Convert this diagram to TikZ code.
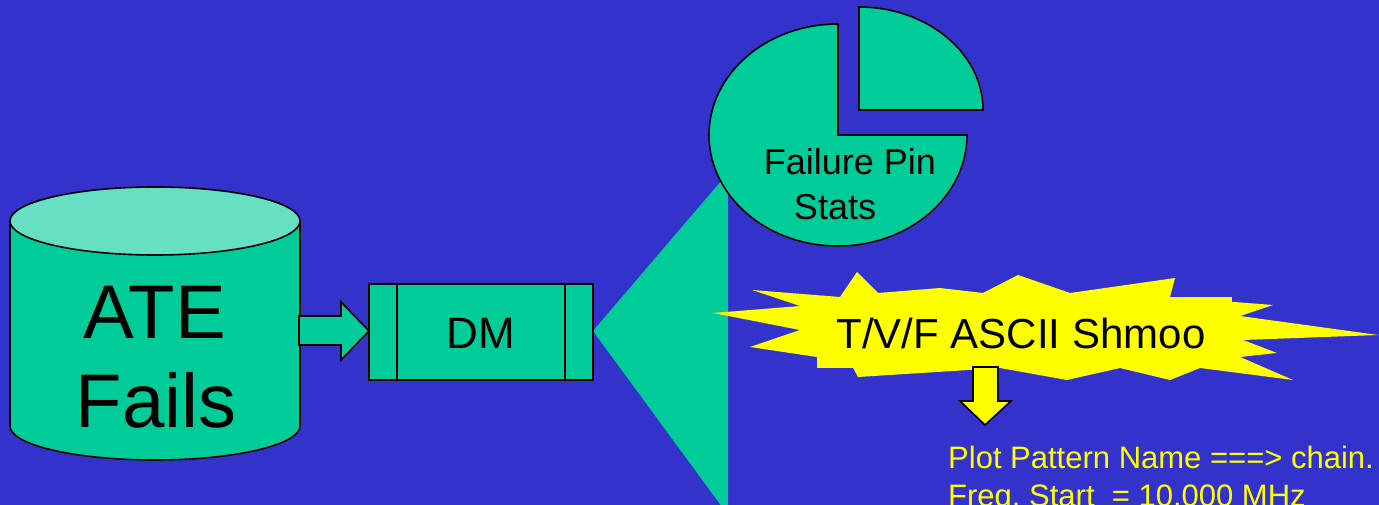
\documentclass[tikz,border=0pt]{standalone}
\usepackage{fontspec}
\setmainfont{Liberation Sans}
\definecolor{slide}{RGB}{51,51,204}
\definecolor{shapegreen}{RGB}{0,204,153}
\definecolor{lidgreen}{RGB}{102,224,194}
\definecolor{burst}{RGB}{255,255,0}
\begin{document}
\begin{tikzpicture}[x=1pt,y=-1pt,
  outline/.style={draw=black,line width=1.6pt,line join=miter},
  greenshape/.style={outline,fill=shapegreen},
  label/.style={inner sep=0pt,anchor=base,text=black},
  bigtext/.style={label,font=\fontsize{76}{90}\selectfont},
  dmtext/.style={label,font=\fontsize{44}{52}\selectfont},
  pietext/.style={label,font=\fontsize{36}{44}\selectfont},
  bursttext/.style={label,font=\fontsize{42}{50}\selectfont},
  readout/.style={inner sep=0pt,anchor=base west,text=burst,font=\fontsize{31}{37}\selectfont}]

% background and page frame
\fill[slide] (0,0) rectangle (1379,505);
\useasboundingbox (0,0) rectangle (1379,505);
\clip (0,0) rectangle (1379,505);

% ---- database cylinder ----
\path[greenshape] (10,221) -- (10,426)
  arc[start angle=180,end angle=0,x radius=145,y radius=34] -- (300,221) -- cycle;
\path[outline,fill=lidgreen] (155,221) ellipse[x radius=145,y radius=34];
\node[bigtext] (ate) at (155,338) {ATE};
\node[bigtext] (fails) at (156,427) {Fails};

% ---- DM process box ----
\coordinate (dmwest) at (369,331);
\coordinate (dmeast) at (593,331);
\node[inner sep=0pt,minimum width=0pt] (dmbox) at (481,331) {};

% fan-out wedge behind the box
\coordinate (fantop) at (728,173);
\coordinate (fanbot) at (728,515);
\fill[shapegreen] (dmeast) -- (fantop) -- (fanbot) -- cycle;

\path[greenshape] (369,284) rectangle (593,380);
\draw[outline] (397,284) -- (397,380);
\draw[outline] (565,284) -- (565,380);
\node[dmtext] (dm) at (481,348) {DM};

% block arrow from the cylinder into DM
\coordinate (cylside) at (299,330);
\path[greenshape] (cylside) ++(0,-14) -- ++(42,0) -- ++(0,-14)
  -- (dmwest) -- ++(-28,29) -- ++(0,-15) -- ++(-42,0) -- cycle;

% ---- pie chart ----
\path[greenshape] (838,135) -- (838,24)
  arc[start angle=270,end angle=0,x radius=129,y radius=111] -- cycle;
\path[greenshape] (859,110) -- (859,7)
  arc[start angle=270,end angle=360,x radius=124,y radius=103] -- cycle;
\node[pietext] (pie1) at (850,175) {Failure Pin};
\node[pietext] (pie2) at (835,220) {Stats};

% ---- starburst ----
\fill[burst] (713,313) -- (800,306) -- (752,290) -- (840,297) -- (857,272)
  -- (878,293) -- (940,288) -- (983,293) -- (1018,275) -- (1070,293)
  -- (1175,278) -- (1170,297) -- (1273,305) -- (1240,316) -- (1378,335)
  -- (1243,340) -- (1277,353) -- (1240,357) -- (1293,380) -- (1200,368)
  -- (1170,380) -- (1120,368) -- (1067,380) -- (1000,368) -- (858,377)
  -- (850,362) -- (750,347) -- (800,330) -- cycle;
\fill[burst] (817,297) rectangle (1232,368);
\node[bursttext] (shmoo) at (1021,348) {T/V/F ASCII Shmoo};

% down arrow to the readout
\path[outline,fill=burst] (973,367) -- (998,367) -- (998,401) -- (1011,401)
  -- (985,425) -- (960,401) -- (973,401) -- cycle;

% ---- text readout ----
\node[readout] (line1) at (948,468) {Plot Pattern Name ===> chain.};
\node[readout] (line2) at (948,506) {Freq.\ Start\ \ =\ 10.000 MHz};
\end{tikzpicture}
\end{document}
